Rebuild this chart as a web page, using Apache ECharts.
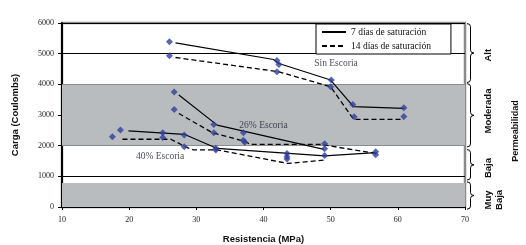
<!DOCTYPE html>
<html><head><meta charset="utf-8">
<script src="https://cdn.jsdelivr.net/npm/echarts@6/dist/echarts.min.js"></script>
<style>html,body{margin:0;padding:0;background:#fff}#c{width:526px;height:245px}</style>
</head><body><div id="c"></div>
<script>
// ---- data ----
const xTicks = [10, 20, 30, 40, 50, 60, 70];
const yTicks = [0, 1000, 2000, 3000, 4000, 5000, 6000];
const grayBands = [[2000, 4000], [0, 780]];
const markersSin = [[26,5390],[26,4930],[42,4780],[42.3,4650],[42,4410],[50.1,4140],[50,3920],[53.3,3345],[53.5,2940],[60.9,3235],[60.9,2954]];
const markers26 = [[26.7,3746],[26.7,3182],[32.6,2693],[32.6,2420],[37,2420],[37,2180],[37.2,2110],[49.1,2060],[49.1,1900]];
const markers40 = [[17.5,2290],[18.7,2508],[25,2420],[25,2270],[28.2,2345],[28.2,1964],[32.9,1912],[32.9,1857],[43.5,1748],[43.5,1640],[43.5,1563],[49.1,1680],[56.7,1800],[56.7,1700]];
const sin7 = [[26.9,5350],[41.5,4810],[42.3,4680],[50,4140],[53.4,3270],[60.9,3215]];
const sin14 = [[26.9,4875],[42.3,4410],[50,3920],[53.4,2860],[60.9,2860]];
const e26_7 = [[27.4,3650],[33.1,2670],[49,1880]];
const e26_14 = [[27.4,3050],[32.4,2420],[37.4,2130],[38,2040],[48.5,2040],[56.7,1750]];
const e40_7 = [[19.9,2485],[28.2,2370],[33.1,1910],[49.1,1670],[56.7,1770]];
const e40_14 = [[19,2210],[26.2,2210],[27.2,2100],[28.4,1960],[29.6,1860],[33.2,1860],[43.6,1420],[49.1,1530]];
const groupLabels = [{name:'Sin Escoria', value:[50.8,4690]}, {name:'26% Escoria', value:[40.0,2670]}, {name:'40% Escoria', value:[24.6,1640]}];
const legendNames = ['7 días de saturación', '14 días de saturación'];
const permeability = [
  {name:'Alt', range:[5980,4060], mid:4950},
  {name:'Moderada', range:[4020,1960], mid:3130},
  {name:'Baja', range:[1870,880], mid:1270},
  {name:'Muy\nBaja', range:[820,-70], mid:230}
];
// ---- chart ----
const SERIF = 'Liberation Serif', SANS = 'Liberation Sans';
const chart = echarts.init(document.getElementById('c'), null, {renderer:'canvas'});
const solid = {color:'#000', width:1.2, type:'solid'};
const dashed = {color:'#000', width:1.3, type:[5,3]};
function lineSeries(name, data, ls){
  return {type:'line', name, data, symbol:'none', lineStyle:ls, itemStyle:{color:'#000'}, z:3, animation:false};
}
function markerSeries(data){
  return {type:'scatter', data, symbol:'diamond', symbolSize:7, itemStyle:{color:'#30409a'}, z:4, animation:false};
}
chart.setOption({
  animation:false,
  grid:{left:62, right:61, top:23, bottom:38, containLabel:false, outerBoundsMode:'none',
    show:true, borderColor:'#8a8a8a', borderWidth:2.5, backgroundColor:'transparent'},
  xAxis:{type:'value', min:xTicks[0], max:xTicks[xTicks.length-1], interval:10,
    name:'Resistencia (MPa)', nameLocation:'middle', nameGap:27,
    nameTextStyle:{fontFamily:SANS, fontWeight:'bold', fontSize:9.5, color:'#111'},
    axisLine:{lineStyle:{color:'#000', width:1.5}}, axisTick:{show:true, length:3, lineStyle:{color:'#000'}},
    axisLabel:{fontFamily:SERIF, fontSize:8, color:'#222', margin:9}, splitLine:{show:false}},
  yAxis:{type:'value', min:yTicks[0], max:yTicks[yTicks.length-1], interval:1000,
    name:'Carga (Coulombs)', nameLocation:'middle', nameGap:42, nameRotate:90,
    nameTextStyle:{fontFamily:SANS, fontWeight:'bold', fontSize:9.5, color:'#111'},
    axisLine:{show:true, lineStyle:{color:'#000', width:2}}, axisTick:{show:true, length:4, lineStyle:{color:'#000'}},
    axisLabel:{fontFamily:SERIF, fontSize:8, color:'#222', margin:8, formatter:v=>String(v)},
    splitLine:{show:true, lineStyle:{color:'#000', width:1}}},
  legend:{data:legendNames, orient:'vertical', left:316, top:24, itemWidth:24, itemHeight:8, itemGap:4,
    padding:[3,20,3,5], borderColor:'#000', borderWidth:1, backgroundColor:'#fff',
    itemStyle:{color:'rgba(0,0,0,0)', borderWidth:0, opacity:0},
    textStyle:{fontFamily:SERIF, fontSize:9.5, color:'#111'}},
  series:[
    {type:'scatter', data:[], z:-1, silent:true,
      markArea:{silent:true, itemStyle:{color:'#b9bcbf'}, data:grayBands.map(b=>[{yAxis:b[0]},{yAxis:b[1]}])}},
    lineSeries(legendNames[0], sin7, solid),
    lineSeries(legendNames[1], sin14, dashed),
    lineSeries(legendNames[0], e26_7, solid),
    lineSeries(legendNames[1], e26_14, dashed),
    lineSeries(legendNames[0], e40_7, solid),
    lineSeries(legendNames[1], e40_14, dashed),
    markerSeries(markersSin), markerSeries(markers26), markerSeries(markers40),
    {type:'scatter', data:groupLabels, symbolSize:0, z:5,
      label:{show:true, position:'inside', formatter:p=>p.name, fontFamily:SERIF, fontSize:9.5, color:'#202030'}}
  ]
});
// ---- right-side braces and labels ----
const g = [];
const bx = 467, bw = 7;
const st = {stroke:'#000', lineWidth:1, fill:null};
permeability.forEach(p=>{
  const y1 = chart.convertToPixel({gridIndex:0}, [70, p.range[0]])[1];
  const y2 = chart.convertToPixel({gridIndex:0}, [70, p.range[1]])[1];
  const ym = (y1+y2)/2, r = 3, xm = bx + bw/2, xt = bx + bw;
  g.push({type:'bezierCurve', shape:{x1:bx, y1:y1, cpx1:xm, cpy1:y1, x2:xm, y2:y1+r}, style:st});
  g.push({type:'line', shape:{x1:xm, y1:y1+r, x2:xm, y2:ym-r}, style:st});
  g.push({type:'bezierCurve', shape:{x1:xm, y1:ym-r, cpx1:xm, cpy1:ym, x2:xt, y2:ym}, style:st});
  g.push({type:'bezierCurve', shape:{x1:xt, y1:ym, cpx1:xm, cpy1:ym, x2:xm, y2:ym+r}, style:st});
  g.push({type:'line', shape:{x1:xm, y1:ym+r, x2:xm, y2:y2-r}, style:st});
  g.push({type:'bezierCurve', shape:{x1:xm, y1:y2-r, cpx1:xm, cpy1:y2, x2:bx, y2:y2}, style:st});
  const yl = chart.convertToPixel({gridIndex:0}, [70, p.mid])[1];
  const multi = p.name.indexOf('\n')>=0;
  g.push({type:'text', x: multi ? 494 : 488, y: yl, rotation:Math.PI/2,
    style:{text:p.name, fontFamily:SANS, fontWeight:'bold', fontSize:9.5, fill:'#111', align:'center', verticalAlign:'middle', lineHeight:11}});
});
g.push({type:'text', x:516, y:131, rotation:Math.PI/2,
  style:{text:'Permeabilidad', fontFamily:SANS, fontWeight:'bold', fontSize:9, fill:'#111', align:'center', verticalAlign:'middle'}});
chart.setOption({graphic:g});
</script></body></html>
